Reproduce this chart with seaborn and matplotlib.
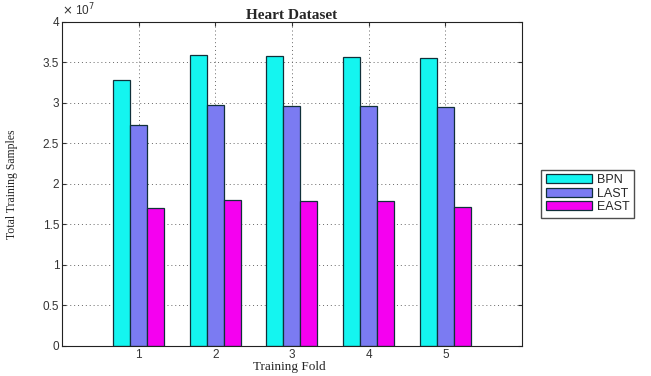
import matplotlib.pyplot as plt
import pandas as pd
import seaborn as sns

sns.set_style("white")
plt.rcParams['font.family'] = ['Liberation Sans', 'DejaVu Sans']

folds = ["1", "2", "3", "4", "5"]
bpn = [3.28e7, 3.595e7, 3.578e7, 3.57e7, 3.558e7]
last = [2.727e7, 2.975e7, 2.966e7, 2.958e7, 2.95e7]
east = [1.70e7, 1.80e7, 1.79e7, 1.79e7, 1.718e7]
methods = ["BPN", "LAST", "EAST"]
yticks = [0, 0.5, 1, 1.5, 2, 2.5, 3, 3.5, 4]

rows = []
for name, vals in zip(methods, [bpn, last, east]):
    for f, v in zip(folds, vals):
        rows.append({"fold": f, "method": name, "samples": v})
df = pd.DataFrame(rows)

fig = plt.figure(figsize=(6.51, 3.76), dpi=100)
ax = fig.add_axes([0.0952, 0.08, 0.7066, 0.8615])

palette = {"BPN": "#14F5F0", "LAST": "#7B7BF2", "EAST": "#F500F0"}
sns.barplot(data=df, x="fold", y="samples", hue="method", palette=palette,
            width=0.665, saturation=1, edgecolor="#10303a", linewidth=0.9,
            ax=ax, legend=True)

ax.set_xlim(-1, 5)
ax.set_ylim(0, 4e7)
ax.set_yticks([t * 1e7 for t in yticks])
ax.set_yticklabels([f"{t:g}" for t in yticks])

ax.grid(True, linestyle=(0, (1, 3)), color="#666666", linewidth=0.7)
ax.set_axisbelow(True)
ax.tick_params(direction="in", length=3, labelsize=8.5, colors="#333333",
               top=True, right=True, bottom=True, left=True, pad=2)
for s in ax.spines.values():
    s.set_visible(True)
    s.set_color("#222222")
    s.set_linewidth(0.8)

ax.set_xlabel("Training Fold", family="Liberation Serif", fontsize=9.5)
ax.xaxis.set_label_coords(0.495, -0.047, transform=ax.transAxes)
ax.xaxis.label.set_va("top")
ax.set_ylabel("Total Training Samples", family="Liberation Serif", fontsize=8.5)
ax.yaxis.set_label_coords(-0.096, 0.5, transform=ax.transAxes)
ax.set_title("Heart Dataset", family="Liberation Serif", fontsize=11,
             fontweight="bold", pad=2)
ax.text(0.0, 1.012, r"$\times$ 10$^7$", transform=ax.transAxes, fontsize=8.5,
        ha="left", va="bottom", color="#333333")

handles, labels = ax.get_legend_handles_labels()
ax.get_legend().remove()
fig.legend(handles, labels, loc="upper left", bbox_to_anchor=(0.822, 0.565),
           frameon=True, fancybox=False, edgecolor="#222222", fontsize=9,
           handlelength=3.7, handleheight=0.75, borderpad=0.35,
           labelspacing=0.12, handletextpad=0.4)

fig.savefig("out.png", dpi=100)
